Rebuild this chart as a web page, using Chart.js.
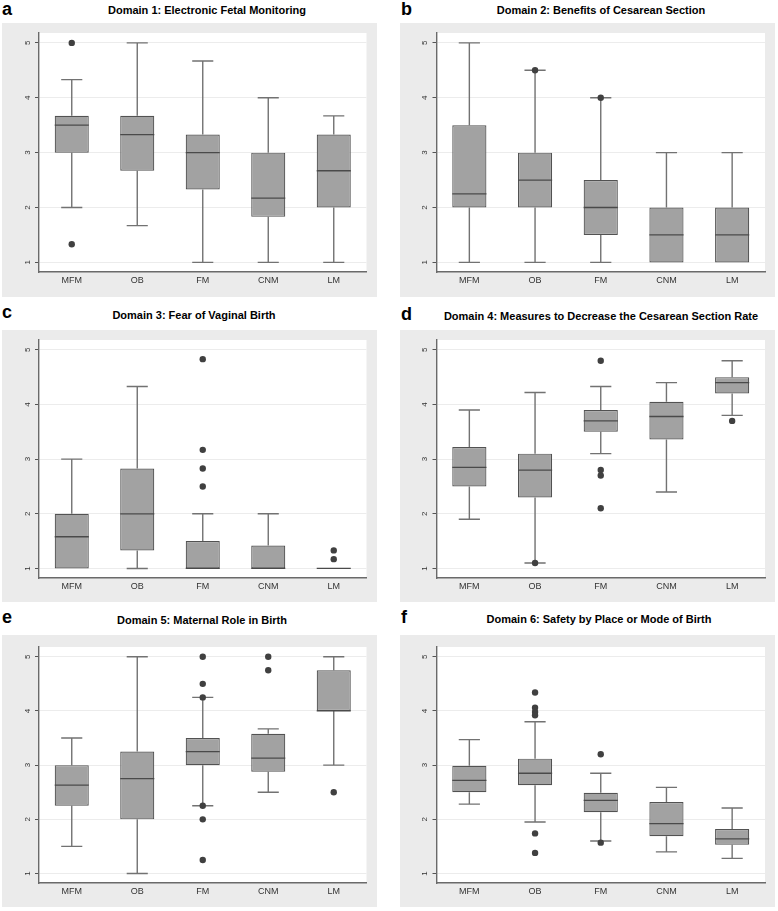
<!DOCTYPE html>
<html lang="en">
<head>
    <meta charset="UTF-8">
    <title>Domains 1-6 box plots</title>
    <script src="https://cdn.jsdelivr.net/npm/chart.js"></script>
    <style>
        body { margin: 0; background: #fff; font-family: "Liberation Sans", Arial, sans-serif; }
        #page { position: relative; width: 778px; height: 911px; overflow: hidden; }
        .letter { position: absolute; font-size: 18px; line-height: 18px; font-weight: bold; color: #000; }
        .title { position: absolute; width: 380px; text-align: center; font-size: 11px; line-height: 11px; font-weight: bold; color: #000; white-space: nowrap; }
        .panel { position: absolute; background: #ebebeb; }
        .panel canvas { display: block; }
    </style>
</head>
<body>
<div id="page">
    <div class="letter" style="left:2px; top:0px;">a</div>
    <div class="title" style="left:17px; top:5px;">Domain 1: Electronic Fetal Monitoring</div>
    <div class="panel" id="p1" style="left:2px; top:23px; width:375px; height:274px;"><canvas id="c1"></canvas></div>

    <div class="letter" style="left:401px; top:0px;">b</div>
    <div class="title" style="left:411px; top:5px;">Domain 2: Benefits of Cesarean Section</div>
    <div class="panel" id="p2" style="left:400px; top:23px; width:375px; height:274px;"><canvas id="c2"></canvas></div>

    <div class="letter" style="left:2px; top:303px;">c</div>
    <div class="title" style="left:4px; top:310px;">Domain 3: Fear of Vaginal Birth</div>
    <div class="panel" id="p3" style="left:2px; top:330px; width:375px; height:272px;"><canvas id="c3"></canvas></div>

    <div class="letter" style="left:401px; top:305px;">d</div>
    <div class="title" style="left:411px; top:311px;">Domain 4: Measures to Decrease the Cesarean Section Rate</div>
    <div class="panel" id="p4" style="left:400px; top:330px; width:375px; height:272px;"><canvas id="c4"></canvas></div>

    <div class="letter" style="left:2px; top:608px;">e</div>
    <div class="title" style="left:12px; top:615px;">Domain 5: Maternal Role in Birth</div>
    <div class="panel" id="p5" style="left:2px; top:635px; width:375px; height:272px;"><canvas id="c5"></canvas></div>

    <div class="letter" style="left:401px; top:608px;">f</div>
    <div class="title" style="left:409px; top:614px;">Domain 6: Safety by Place or Mode of Birth</div>
    <div class="panel" id="p6" style="left:400px; top:635px; width:375px; height:272px;"><canvas id="c6"></canvas></div>
</div>

<script>
// categories and tick labels
const groups = ["MFM", "OB", "FM", "CNM", "LM"];
const yTicks = [1, 2, 3, 4, 5];

// Domain 1: Electronic Fetal Monitoring
const d1Low  = [2.0, 1.67, 1.0, 1.0, 1.0];
const d1Q1   = [3.0, 2.67, 2.33, 1.83, 2.0];
const d1Med  = [3.5, 3.33, 3.0, 2.17, 2.67];
const d1Q3   = [3.67, 3.67, 3.33, 3.0, 3.33];
const d1High = [4.33, 5.0, 4.67, 4.0, 3.67];
const d1Out  = [[5.0, 1.33], [], [], [], []];

// Domain 2: Benefits of Cesarean Section
const d2Low  = [1.0, 1.0, 1.0, 1.0, 1.0];
const d2Q1   = [2.0, 2.0, 1.5, 1.0, 1.0];
const d2Med  = [2.25, 2.5, 2.0, 1.5, 1.5];
const d2Q3   = [3.5, 3.0, 2.5, 2.0, 2.0];
const d2High = [5.0, 4.5, 4.0, 3.0, 3.0];
const d2Out  = [[], [4.5], [4.0], [], []];

// Domain 3: Fear of Vaginal Birth
const d3Low  = [1.0, 1.0, 1.0, 1.0, 1.0];
const d3Q1   = [1.0, 1.33, 1.0, 1.0, 1.0];
const d3Med  = [1.58, 2.0, 1.0, 1.0, 1.0];
const d3Q3   = [2.0, 2.83, 1.5, 1.42, 1.0];
const d3High = [3.0, 4.33, 2.0, 2.0, 1.0];
const d3Out  = [[], [], [4.83, 3.17, 2.83, 2.5], [], [1.33, 1.17]];

// Domain 4: Measures to Decrease the Cesarean Section Rate
const d4Low  = [1.9, 1.1, 3.1, 2.4, 3.8];
const d4Q1   = [2.5, 2.3, 3.5, 3.36, 4.2];
const d4Med  = [2.85, 2.8, 3.7, 3.78, 4.4];
const d4Q3   = [3.22, 3.1, 3.9, 4.05, 4.5];
const d4High = [3.9, 4.22, 4.33, 4.4, 4.8];
const d4Out  = [[], [1.1], [4.8, 2.8, 2.7, 2.1], [], [3.7]];

// Domain 5: Maternal Role in Birth
const d5Low  = [1.5, 1.0, 2.25, 2.5, 3.0];
const d5Q1   = [2.25, 2.0, 3.0, 2.88, 4.0];
const d5Med  = [2.63, 2.75, 3.25, 3.13, 4.0];
const d5Q3   = [3.0, 3.25, 3.5, 3.58, 4.75];
const d5High = [3.5, 5.0, 4.25, 3.67, 5.0];
const d5Out  = [[], [], [5.0, 4.5, 4.25, 2.25, 2.0, 1.25], [5.0, 4.75], [2.5]];

// Domain 6: Safety by Place or Mode of Birth
const d6Low  = [2.28, 1.95, 1.6, 1.4, 1.28];
const d6Q1   = [2.5, 2.63, 2.13, 1.69, 1.53];
const d6Med  = [2.72, 2.85, 2.35, 1.92, 1.64];
const d6Q3   = [2.99, 3.12, 2.49, 2.32, 1.82];
const d6High = [3.47, 3.8, 2.85, 2.59, 2.21];
const d6Out  = [[], [4.34, 4.06, 3.98, 3.92, 1.74, 1.38], [3.2, 1.57], [], []];

Chart.defaults.font.family = "'Liberation Sans', Arial, sans-serif";

// white plot region, whiskers under the boxes, medians on top
const boxParts = {
    id: "boxParts",
    beforeDraw(chart) {
        const a = chart.chartArea;
        chart.ctx.save();
        chart.ctx.fillStyle = "#ffffff";
        chart.ctx.fillRect(a.left, a.top, a.right - a.left, a.bottom - a.top);
        chart.ctx.restore();
    },
    beforeDatasetsDraw(chart) {
        const ctx = chart.ctx, y = chart.scales.y;
        const ds = chart.data.datasets[1];
        chart.getDatasetMeta(1).data.forEach((bar, i) => {
            const cap = bar.width / 2 * 0.62;
            ctx.save();
            ctx.strokeStyle = "#727272";
            ctx.lineWidth = 1.4;
            [[ds.low[i], ds.q1[i]], [ds.high[i], ds.q3[i]]].forEach(([end, edge]) => {
                if (end === edge) return;
                const ye = y.getPixelForValue(end), yb = y.getPixelForValue(edge);
                ctx.beginPath();
                ctx.moveTo(bar.x, yb);
                ctx.lineTo(bar.x, ye);
                ctx.moveTo(bar.x - cap, ye);
                ctx.lineTo(bar.x + cap, ye);
                ctx.stroke();
            });
            ctx.restore();
        });
    },
    afterDatasetsDraw(chart) {
        const ctx = chart.ctx, y = chart.scales.y;
        const ds = chart.data.datasets[1];
        chart.getDatasetMeta(1).data.forEach((bar, i) => {
            const ym = y.getPixelForValue(ds.med[i]);
            ctx.save();
            ctx.strokeStyle = "#4a4a4a";
            ctx.lineWidth = 1.3;
            ctx.beginPath();
            ctx.moveTo(bar.x - bar.width / 2, ym);
            ctx.lineTo(bar.x + bar.width / 2, ym);
            ctx.stroke();
            ctx.restore();
        });
    }
};

function makeBoxChart(id, low, q1, med, q3, high, out, yW, xH, padTop, padRight) {
    const points = [];
    out.forEach((vals, i) => vals.forEach(v => points.push({ x: groups[i], y: v })));

    new Chart(document.getElementById(id), {
        type: "bar",
        data: {
            labels: groups,
            datasets: [
                {
                    type: "line",
                    data: points,
                    showLine: false,
                    pointRadius: 3.2,
                    pointBackgroundColor: "#404040",
                    pointBorderWidth: 0,
                    order: 0
                },
                {
                    data: groups.map((g, i) => [q1[i], q3[i]]),
                    low: low, q1: q1, med: med, q3: q3, high: high,
                    backgroundColor: "#a2a2a2",
                    borderColor: "#525252",
                    borderWidth: 1.2,
                    borderSkipped: false,
                    barPercentage: 0.52,
                    categoryPercentage: 1,
                    order: 1
                }
            ]
        },
        options: {
            responsive: true,
            maintainAspectRatio: false,
            animation: false,
            devicePixelRatio: 1,
            layout: { padding: { top: padTop, right: padRight, left: 0, bottom: 0 } },
            plugins: { legend: { display: false }, tooltip: { enabled: false } },
            scales: {
                x: {
                    grid: { display: false, drawTicks: false },
                    border: { display: true, color: "#6a6a6a", width: 1.4 },
                    ticks: { color: "#333", font: { size: 9 }, padding: 3 },
                    afterFit(scale) { scale.height = xH; }
                },
                y: {
                    min: 0.825,
                    max: 5.18,
                    afterBuildTicks(scale) { scale.ticks = yTicks.map(v => ({ value: v })); },
                    grid: { color: "#ececec", lineWidth: 1, drawTicks: true, tickLength: 4, tickColor: "#555" },
                    border: { display: true, color: "#6a6a6a", width: 1.4 },
                    ticks: { color: "#333", font: { size: 8 }, minRotation: 90, maxRotation: 90, crossAlign: "center", padding: 5 },
                    afterFit(scale) { scale.width = yW; }
                }
            }
        },
        plugins: [boxParts]
    });
}

makeBoxChart("c1", d1Low, d1Q1, d1Med, d1Q3, d1High, d1Out, 37, 25, 10, 10.5);
makeBoxChart("c2", d2Low, d2Q1, d2Med, d2Q3, d2High, d2Out, 36.5, 25, 10, 10);
makeBoxChart("c3", d3Low, d3Q1, d3Med, d3Q3, d3High, d3Out, 37, 24, 10, 10.5);
makeBoxChart("c4", d4Low, d4Q1, d4Med, d4Q3, d4High, d4Out, 36.5, 24, 10, 10);
makeBoxChart("c5", d5Low, d5Q1, d5Med, d5Q3, d5High, d5Out, 37, 24, 12, 10.5);
makeBoxChart("c6", d6Low, d6Q1, d6Med, d6Q3, d6High, d6Out, 36.5, 24, 12, 10);
</script>
</body>
</html>
